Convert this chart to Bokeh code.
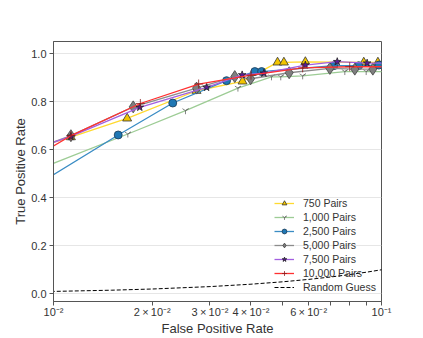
from bokeh.plotting import figure
from bokeh.models import Range1d, FixedTicker, CustomJSTickFormatter, Legend, LegendItem
from bokeh.embed import file_html
from bokeh.resources import INLINE

# ---- data ----
fpr_750 = [0.008, 0.0113, 0.01677, 0.0273, 0.0377, 0.0482, 0.0504, 0.0586, 0.0883, 0.0975]
tpr_750 = [0.589, 0.652, 0.730, 0.845, 0.884, 0.963, 0.963, 0.965, 0.963, 0.963]

fpr_1000 = [0.008, 0.01685, 0.02526, 0.0365, 0.0462, 0.0493, 0.0575, 0.0773, 0.0898, 0.105]
tpr_1000 = [0.491, 0.665, 0.762, 0.856, 0.903, 0.903, 0.907, 0.925, 0.925, 0.925]

fpr_2500 = [0.008, 0.01575, 0.0231, 0.0337, 0.0411, 0.0431, 0.0715, 0.0852, 0.0982]
tpr_2500 = [0.415, 0.661, 0.794, 0.887, 0.925, 0.925, 0.949, 0.949, 0.952]

fpr_5000 = [0.008, 0.0113, 0.0175, 0.0273, 0.0357, 0.0399, 0.0523, 0.0696, 0.0829, 0.0941]
tpr_5000 = [0.585, 0.658, 0.778, 0.856, 0.904, 0.895, 0.920, 0.938, 0.935, 0.935]

fpr_7500 = [0.008, 0.0113, 0.01833, 0.0293, 0.0376, 0.0438, 0.0586, 0.0733, 0.0904, 0.105]
tpr_7500 = [0.585, 0.655, 0.776, 0.859, 0.911, 0.918, 0.952, 0.966, 0.960, 0.960]

fpr_10000 = [0.008, 0.0113, 0.0184, 0.0277, 0.0400, 0.0575, 0.0800, 0.105]
tpr_10000 = [0.537, 0.658, 0.792, 0.873, 0.910, 0.940, 0.945, 0.945]

fpr_random = [0.005, 0.01, 0.015, 0.02, 0.03, 0.04, 0.05, 0.06, 0.07, 0.08, 0.09, 0.1, 0.11]
tpr_random = [0.005, 0.01, 0.015, 0.02, 0.03, 0.04, 0.05, 0.06, 0.07, 0.08, 0.09, 0.1, 0.11]

x_tick_values = [0.01, 0.02, 0.03, 0.04, 0.05, 0.06, 0.07, 0.08, 0.09, 0.1]
x_tick_labels = {"0.01": "10\u207b\u00b2", "0.02": "2\u2009\u00d7\u200910\u207b\u00b2",
                 "0.03": "3\u2009\u00d7\u200910\u207b\u00b2", "0.04": "4\u2009\u00d7\u200910\u207b\u00b2",
                 "0.06": "6\u2009\u00d7\u200910\u207b\u00b2", "0.1": "10\u207b\u00b9"}
y_tick_values = [0.0, 0.2, 0.4, 0.6, 0.8, 1.0]

FONT = "Liberation Sans"

p = figure(width=423, height=338, x_axis_type="log",
           x_range=Range1d(0.01, 0.1), y_range=Range1d(-0.032, 1.05),
           output_backend="svg", toolbar_location=None,
           min_border_left=53, min_border_right=42, min_border_top=41, min_border_bottom=0)

p.outline_line_color = "#555555"
p.outline_line_width = 1
p.background_fill_color = "white"
p.xgrid.grid_line_color = None
p.ygrid.grid_line_color = "#e6e6e6"
p.ygrid.ticker = FixedTicker(ticks=y_tick_values)

p.xaxis.ticker = FixedTicker(ticks=x_tick_values)
p.xaxis.formatter = CustomJSTickFormatter(args=dict(m=x_tick_labels), code="""
const k = String(Math.round(tick*100)/100);
return (k in m) ? m[k] : "";
""")
p.yaxis.ticker = FixedTicker(ticks=y_tick_values)
p.yaxis.formatter = CustomJSTickFormatter(code="return tick.toFixed(1);")

for ax in (p.xaxis[0], p.yaxis[0]):
    ax.axis_line_color = "#555555"
    ax.major_tick_line_color = "#555555"
    ax.major_tick_out = 4
    ax.major_tick_in = 0
    ax.minor_tick_line_color = None
    ax.major_label_text_font = FONT
    ax.major_label_text_font_size = "11px"
    ax.major_label_text_color = "#333333"
    ax.axis_label_text_font = FONT
    ax.axis_label_text_font_size = "13px"
    ax.axis_label_text_font_style = "normal"
    ax.axis_label_text_color = "#333333"

p.xaxis.axis_label = "False Positive Rate"
p.yaxis.axis_label = "True Positive Rate"
p.xaxis.major_label_standoff = 0
p.xaxis.axis_label_standoff = 0
p.yaxis.major_label_standoff = 3
p.yaxis.axis_label_standoff = 0

items = []

def series(x, y, color, marker, fill, edge, size, label):
    l = p.line(x, y, line_color=color, line_width=1.3)
    m = p.scatter(x, y, marker=marker, size=size, fill_color=fill, line_color=edge, line_width=0.8)
    items.append(LegendItem(label=label, renderers=[l, m]))

series(fpr_750, tpr_750, "#ffd92f", "triangle", "#f2c500", "#333333", 9, "750 Pairs")
series(fpr_1000, tpr_1000, "#9dcc95", "y", None, "#666666", 7, "1,000 Pairs")
series(fpr_2500, tpr_2500, "#3a8cc4", "circle", "#1f77b4", "#1a3a55", 8, "2,500 Pairs")
series(fpr_5000, tpr_5000, "#8c8c8c", "diamond", "#7f7f7f", "#444444", 12, "5,000 Pairs")
series(fpr_7500, tpr_7500, "#a35fe0", "star", "#5b1a9a", "#222222", 8, "7,500 Pairs")
series(fpr_10000, tpr_10000, "#ff3030", "cross", None, "#8b1a1a", 9, "10,000 Pairs")

rl = p.line(fpr_random, tpr_random, line_color="black", line_width=1, line_dash="4 2")
items.append(LegendItem(label="Random Guess", renderers=[rl]))

legend = Legend(items=items, location=(217, 4))
legend.background_fill_alpha = 0
legend.border_line_alpha = 0
legend.label_text_font = FONT
legend.label_text_font_size = "10.5px"
legend.label_text_color = "#333333"
legend.glyph_height = 12
legend.glyph_width = 20
legend.label_height = 12
legend.spacing = 2
legend.padding = 4
legend.label_standoff = 9
legend.margin = 0
p.add_layout(legend, "center")

open("out.html", "w").write(file_html(p, INLINE))
